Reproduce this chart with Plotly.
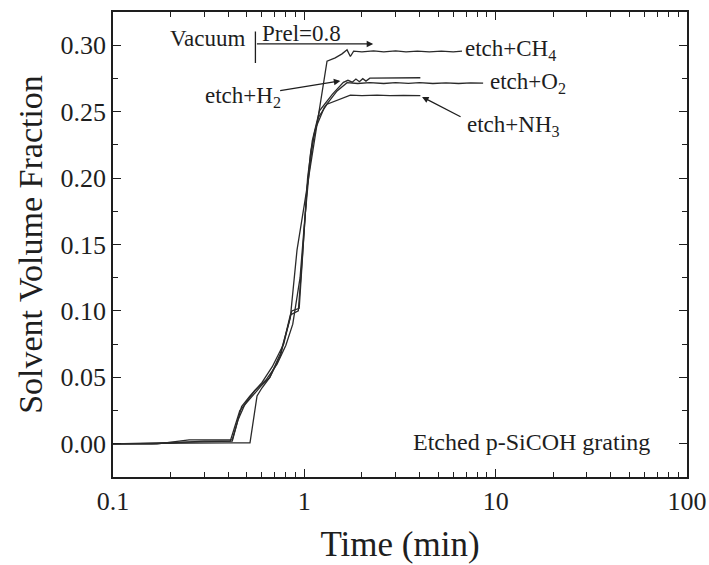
import numpy as np
import plotly.graph_objects as go

# ---------------- data (time in min, solvent volume fraction) ----------------
t_ch4 = [0.1, 0.16, 0.25, 0.42, 0.52, 0.566, 0.60, 0.66, 0.75, 0.845, 0.916, 1.0, 1.1, 1.2, 1.314,
         1.45, 1.574, 1.672, 1.74, 1.81, 2.0, 2.3, 2.6, 3.0, 3.4, 3.9, 4.5, 5.2, 6.0, 6.67]
v_ch4 = [0.0, 0.0, 0.0005, 0.0007, 0.0007, 0.036, 0.042, 0.050, 0.068, 0.095, 0.146, 0.180, 0.218, 0.252, 0.288,
         0.2905, 0.2935, 0.2965, 0.2915, 0.2955, 0.2950, 0.2958, 0.2950, 0.2957, 0.2950, 0.2956, 0.2950, 0.2955, 0.2950, 0.2955]

t_o2 = [0.1, 0.16, 0.30, 0.41, 0.46, 0.50, 0.59, 0.66, 0.75, 0.845, 0.93, 0.976, 1.03, 1.08, 1.15, 1.27,
        1.483, 1.672, 1.9, 2.2, 2.6, 3.0, 3.5, 4.0, 4.7, 5.5, 6.4, 7.4, 8.6]
v_o2 = [0.0, 0.0, 0.002, 0.002, 0.025, 0.031, 0.043, 0.050, 0.066, 0.097, 0.100, 0.140, 0.190, 0.220, 0.238, 0.253,
        0.2656, 0.2718, 0.2712, 0.2718, 0.2712, 0.2718, 0.2713, 0.2718, 0.2712, 0.2716, 0.2712, 0.2716, 0.2714]

t_h2 = [0.1, 0.20, 0.42, 0.47, 0.52, 0.60, 0.68, 0.78, 0.86, 0.94, 0.99, 1.04, 1.10, 1.20, 1.40, 1.60,
        1.69, 1.78, 1.86, 1.94, 2.02, 2.1, 2.2, 2.6, 3.0, 3.5, 4.04]
v_h2 = [0.0, 0.001, 0.002, 0.028, 0.036, 0.046, 0.058, 0.075, 0.100, 0.102, 0.150, 0.200, 0.228, 0.2506, 0.263, 0.272,
        0.2736, 0.2722, 0.2745, 0.2725, 0.2748, 0.2730, 0.2752, 0.2752, 0.2755, 0.2752, 0.2755]

t_nh3 = [0.1, 0.17, 0.25, 0.42, 0.45, 0.49, 0.55, 0.63, 0.72, 0.80, 0.87, 0.95, 1.00, 1.06, 1.12, 1.184,
         1.314, 1.53, 1.74, 2.0, 2.4, 2.8, 3.3, 4.04]
v_nh3 = [0.0, 0.0, 0.003, 0.003, 0.018, 0.030, 0.040, 0.048, 0.060, 0.074, 0.090, 0.125, 0.165, 0.205, 0.232, 0.2456,
         0.2556, 0.2594, 0.2624, 0.2620, 0.2624, 0.2620, 0.2623, 0.2620]

series = [("etch+CH4", t_ch4, v_ch4), ("etch+O2", t_o2, v_o2),
          ("etch+H2", t_h2, v_h2), ("etch+NH3", t_nh3, v_nh3)]

x_major = [0.1, 1, 10, 100]
x_major_text = ["0.1", "1", "10", "100"]
x_minor = [m * d for d in (0.1, 1, 10) for m in range(2, 10)]
y_major = [0.00, 0.05, 0.10, 0.15, 0.20, 0.25, 0.30]

FONT = "Liberation Serif, Times New Roman, serif"
INK = "#1e1e1e"

fig = go.Figure()
for name, t, v in series:
    fig.add_trace(go.Scatter(x=t, y=v, mode="lines", name=name,
                             line=dict(color="#2a2a2a", width=1.3), showlegend=False))

axis_common = dict(showline=True, linecolor=INK, linewidth=1.6, mirror="allticks",
                   ticks="inside", tickcolor=INK, tickwidth=1.4, ticklen=8,
                   showgrid=False, zeroline=False,
                   tickfont=dict(family=FONT, size=26, color=INK))

fig.update_xaxes(type="log", range=[-1, 2], tickmode="array", tickvals=x_major, ticktext=x_major_text,
                 minor=dict(tickvals=x_minor, ticks="inside", ticklen=5, tickcolor=INK, tickwidth=1.2),
                 title=dict(text="Time (min)", font=dict(family=FONT, size=35, color=INK), standoff=16),
                 **axis_common)
fig.update_yaxes(range=[-0.025, 0.325], tickmode="array", tickvals=y_major, tickformat=".2f",
                 minor=dict(dtick=0.025, tick0=0, ticks="inside", ticklen=5, tickcolor=INK, tickwidth=1.2),
                 title=dict(text="Solvent Volume Fraction", font=dict(family=FONT, size=34, color=INK), standoff=8),
                 **axis_common)

afont = dict(family=FONT, size=23, color=INK)
lg = np.log10
annotations = [
    dict(x=-0.298, y=0.3053, text="Vacuum", xanchor="right", yanchor="middle", showarrow=False, font=afont),
    dict(x=-0.23, y=0.3085, text="Prel=0.8", xanchor="left", yanchor="middle", showarrow=False, font=afont),
    # vertical divider
    dict(x=lg(0.555), y=0.2866, ax=lg(0.555), ay=0.3115, axref="x", ayref="y", text="",
         showarrow=True, arrowhead=0, arrowwidth=1.3, arrowcolor=INK),
    # horizontal arrow
    dict(x=lg(2.29), y=0.301, ax=lg(0.555), ay=0.301, axref="x", ayref="y", text="",
         showarrow=True, arrowhead=2, arrowsize=1.0, arrowwidth=1.3, arrowcolor=INK),
    dict(x=0.8312, y=0.2963, text="etch+CH<sub>4</sub>", xanchor="left", yanchor="middle", showarrow=False, font=afont),
    dict(x=0.9619, y=0.2716, text="etch+O<sub>2</sub>", xanchor="left", yanchor="middle", showarrow=False, font=afont),
    dict(x=-0.528, y=0.2611, text="etch+H<sub>2</sub>", xanchor="left", yanchor="middle", showarrow=False, font=afont),
    dict(x=0.8417, y=0.2394, text="etch+NH<sub>3</sub>", xanchor="left", yanchor="middle", showarrow=False, font=afont),
    # arrows to H2 and NH3 curves
    dict(x=0.1882, y=0.2731, ax=-0.1343, ay=0.2656, axref="x", ayref="y", text="",
         showarrow=True, arrowhead=2, arrowsize=1.0, arrowwidth=1.3, arrowcolor=INK),
    dict(x=0.6153, y=0.2611, ax=0.8244, ay=0.2456, axref="x", ayref="y", text="",
         showarrow=True, arrowhead=2, arrowsize=1.0, arrowwidth=1.3, arrowcolor=INK),
    dict(x=0.555, y=0.001, text="Etched p-SiCOH grating", xanchor="left", yanchor="middle",
         showarrow=False, font=dict(family=FONT, size=24, color=INK)),
]

fig.update_layout(width=709, height=565, margin=dict(l=113, r=22, t=12, b=88, autoexpand=False),
                  paper_bgcolor="white", plot_bgcolor="white", annotations=annotations,
                  font=dict(family=FONT, color=INK))

fig.write_html("out.html")
